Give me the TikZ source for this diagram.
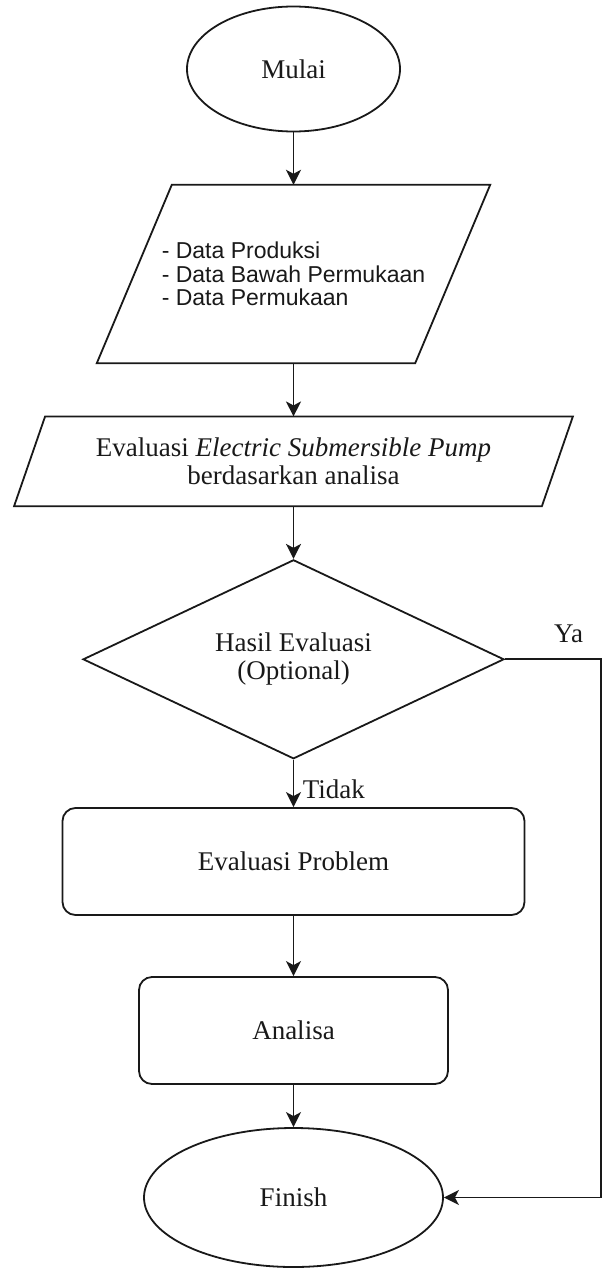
\documentclass[tikz,border=0pt]{standalone}
\usepackage{fontspec}
\setmainfont{Liberation Serif}
\newfontfamily\listfont{Liberation Sans}
\usetikzlibrary{shapes.geometric,arrows.meta}

\begin{document}
\begin{tikzpicture}[x=1pt,y=-1pt,
    line/.style={draw=black!90,line width=1.8pt},
    flow/.style={line,-{Stealth[length=15pt,width=15pt,inset=4pt]}},
    term/.style={ellipse,line,inner sep=0pt,font=\fontsize{27}{28}\selectfont},
    iobox/.style={rectangle,inner sep=0pt},
    procbox/.style={rectangle,line,rounded corners=13pt,inner sep=0pt,font=\fontsize{27}{28}\selectfont},
    decide/.style={diamond,line,inner sep=0pt,aspect=2.1,font=\fontsize{27}{28}\selectfont},
    lbl/.style={font=\fontsize{27}{28}\selectfont,text=black!90}]
    \useasboundingbox (0,0) rectangle (605,1268);

    \node[term,minimum width=213pt,minimum height=125pt,text=black!90] (start) at (293.5,69) {Mulai};
    \node[iobox,minimum width=393pt,minimum height=178pt,align=left,text=black!90,
        font=\listfont\fontsize{23}{23.5}\selectfont] (data) at (293.5,274)
        {- Data Produksi\\- Data Bawah Permukaan\\- Data Permukaan};
    \node[iobox,minimum width=558.4pt,minimum height=89.3pt,align=center,text=black!90,
        font=\fontsize{27}{27.7}\selectfont] (esp) at (293.5,461.3)
        {Evaluasi \textit{Electric Submersible Pump}\\berdasarkan analisa};
    \node[decide,minimum width=421pt,minimum height=199pt,align=center,text=black!90] (hasil) at (293.5,659.3)
        {Hasil Evaluasi\\(Optional)};
    \node[procbox,minimum width=462pt,minimum height=107pt,text=black!90] (prob) at (293.5,861.5) {Evaluasi Problem};
    \node[procbox,minimum width=309pt,minimum height=107pt,text=black!90] (anl) at (293.5,1030.5) {Analisa};
    \node[term,minimum width=299pt,minimum height=139pt,text=black!90] (fin) at (293.5,1197.5) {Finish};

    \foreach \n/\s in {data/75,esp/31}{
        \draw[line] ([xshift=\s]\n.north west) -- (\n.north east) -- ([xshift=-\s]\n.south east) -- (\n.south west) -- cycle;
    }

    \draw[flow] (start) -- (data);
    \draw[flow] (data) -- (esp);
    \draw[flow] (esp) -- (hasil);
    \draw[flow] (hasil) -- (prob);
    \draw[flow] (prob) -- (anl);
    \draw[flow] (anl) -- (fin);

    \coordinate (turn) at (601,659.3);
    \draw[flow] (hasil.east) -- (turn) |- (fin.east);

    \node[lbl] (ya) at (568.6,633.7) {Ya};
    \node[lbl] (tidak) at (333.8,789) {Tidak};
\end{tikzpicture}
\end{document}
